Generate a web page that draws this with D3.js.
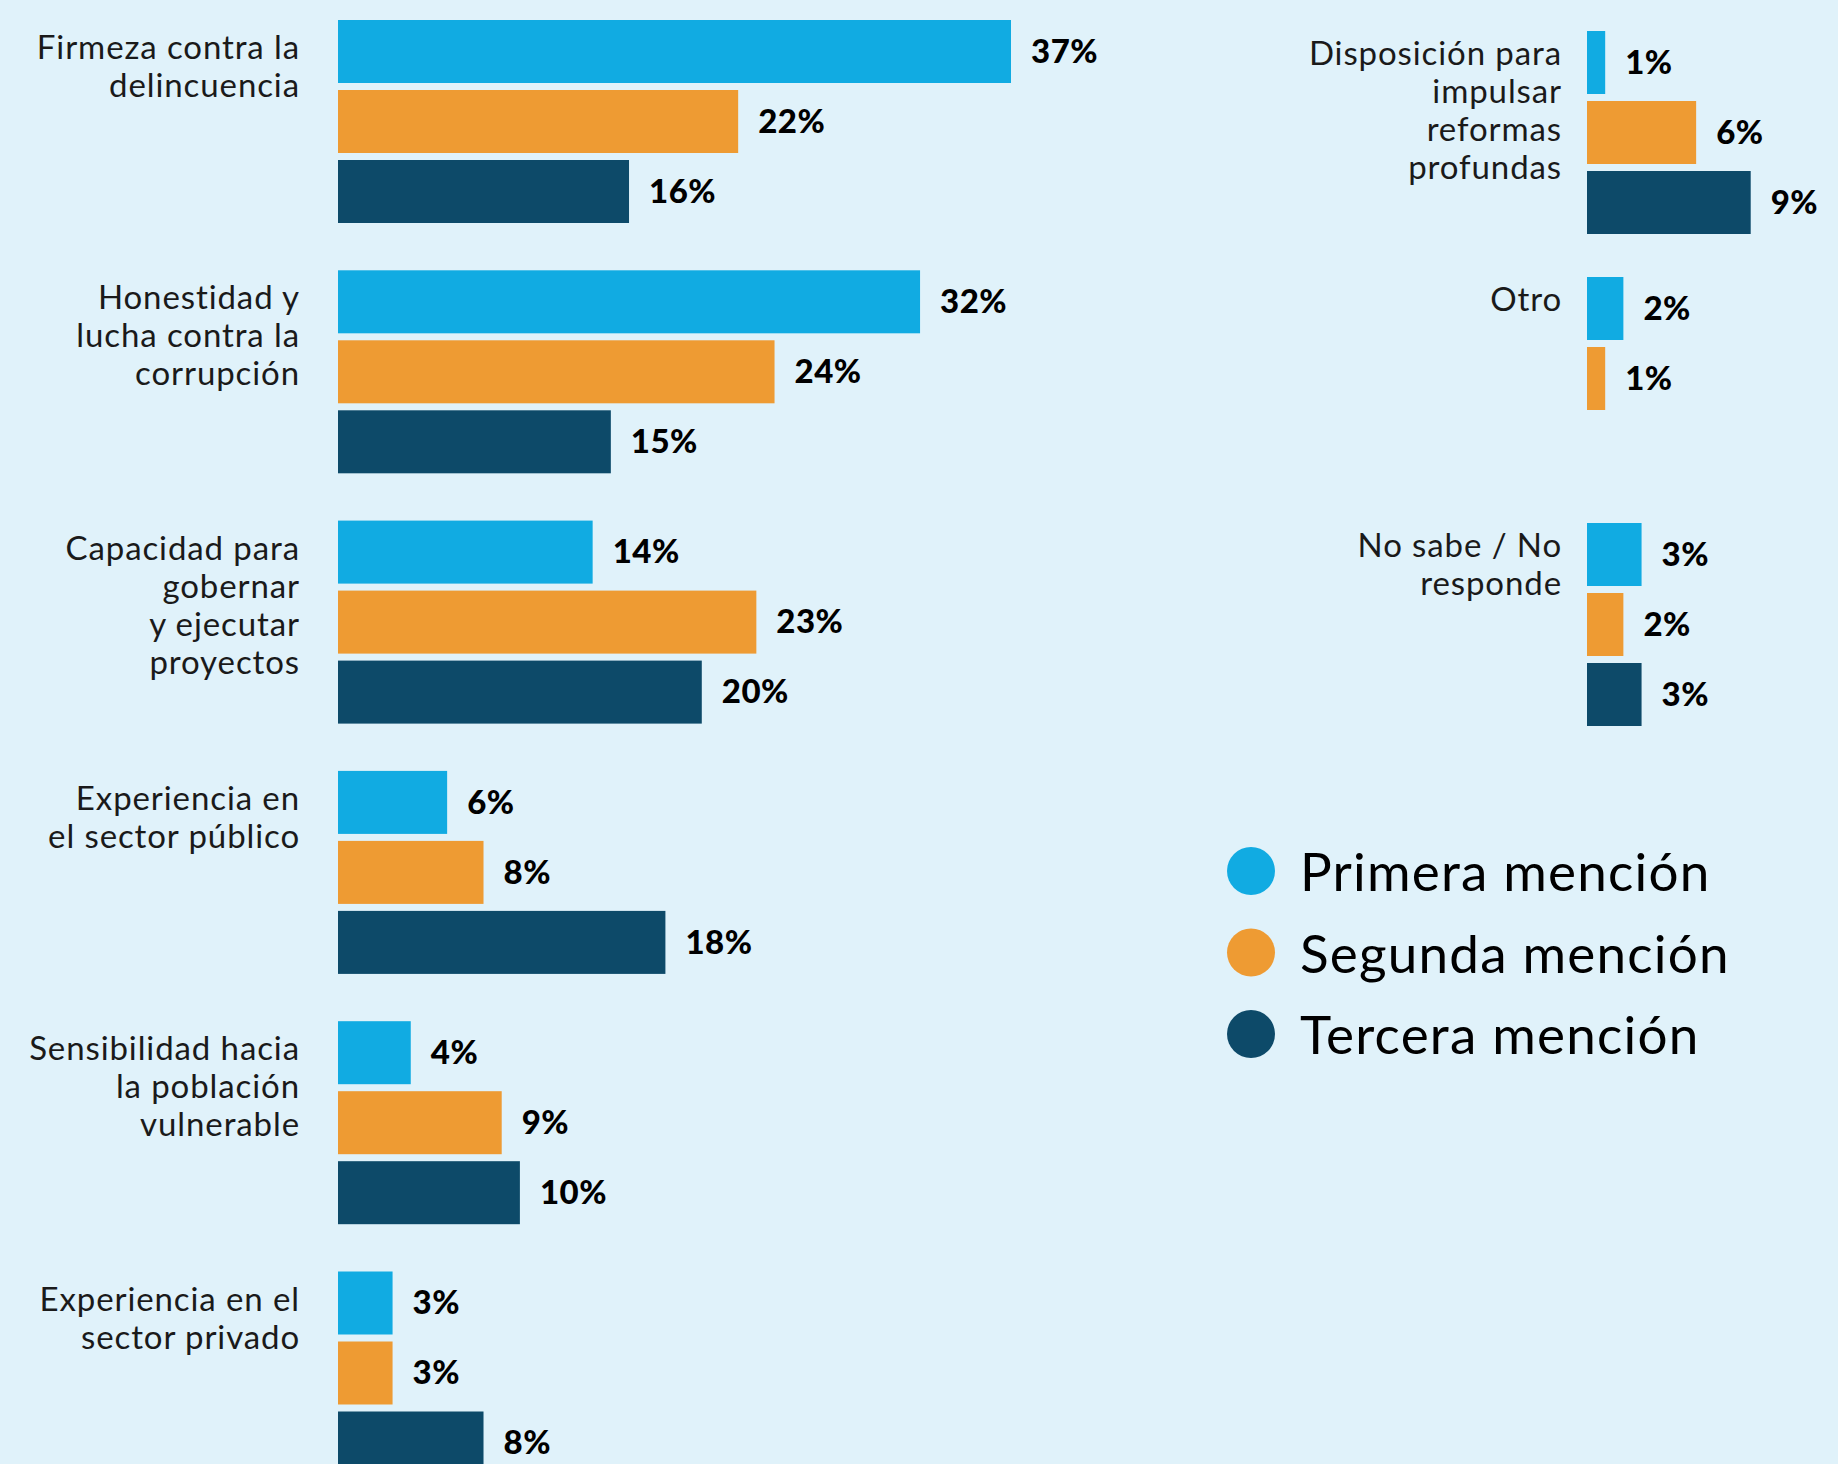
<!DOCTYPE html>
<html>
<head>
<meta charset="utf-8">
<style>
  body { margin: 0; background: #e0f2fa; }
  svg { display: block; }
</style>
</head>
<body>
<svg width="1838" height="1464"></svg>
<script src="https://d3js.org/d3.v7.min.js"></script>
<script>
    // series (mentions) and their colours
    var series = ["Primera mención", "Segunda mención", "Tercera mención"];
    var seriesColors = ["#11abe2", "#ee9b33", "#0d4a69"];

    // left block
    var leftCategories = [
        "Firmeza contra la\ndelincuencia",
        "Honestidad y\nlucha contra la\ncorrupción",
        "Capacidad para\ngobernar\ny ejecutar\nproyectos",
        "Experiencia en\nel sector público",
        "Sensibilidad hacia\nla población\nvulnerable",
        "Experiencia en el\nsector privado"
    ];
    var leftPrimera = [37, 32, 14, 6, 4, 3];
    var leftSegunda = [22, 24, 23, 8, 9, 3];
    var leftTercera = [16, 15, 20, 18, 10, 8];

    // right block
    var rightCategories = [
        "Disposición para\nimpulsar\nreformas\nprofundas",
        "Otro",
        "No sabe / No\nresponde"
    ];
    var rightPrimera = [1, 2, 3];
    var rightSegunda = [6, 1, 2];
    var rightTercera = [9, null, 3];

    var svg = d3.select("svg"),
        width = +svg.attr("width"),
        height = +svg.attr("height");

    svg.append("rect").attr("width", width).attr("height", height).attr("fill", "#e0f2fa");

    var x = d3.scaleLinear().domain([0, 37]).range([0, 673]);
    var color = d3.scaleOrdinal().domain(series).range(seriesColors);
    var inner = d3.scaleBand().domain(series).range([0, 203]).paddingInner(0.1);

    function rows(cats, a, b, c) {
        return cats.map(function (cat, i) {
            return {
                cat: cat,
                values: [a[i], b[i], c[i]].map(function (v, j) { return { s: series[j], v: v }; })
                    .filter(function (d) { return d.v != null; })
            };
        });
    }

    function drawBlock(data, opts) {
        var y = d3.scaleBand()
            .domain(data.map(function (d) { return d.cat; }))
            .range(opts.yRange)
            .paddingInner(0);

        var g = svg.append("g").attr("transform", "translate(" + opts.x0 + ",0)");

        var grp = g.selectAll(".grp")
            .data(data)
            .enter().append("g")
            .attr("class", "grp")
            .attr("transform", function (d) { return "translate(0," + y(d.cat) + ")"; });

        grp.selectAll("rect")
            .data(function (d) { return d.values; })
            .enter().append("rect")
            .attr("x", 0)
            .attr("y", function (d) { return inner(d.s); })
            .attr("width", function (d) { return x(d.v); })
            .attr("height", inner.bandwidth())
            .attr("fill", function (d) { return color(d.s); });

        grp.selectAll(".val")
            .data(function (d) { return d.values; })
            .enter().append("text")
            .attr("class", "val")
            .attr("x", function (d) { return x(d.v) + 20; })
            .attr("y", function (d) { return inner(d.s) + inner.bandwidth() / 2; })
            .attr("dy", "0.34em")
            .style("font", "900 33px Lato")
            .style("letter-spacing", "0.5px")
            .attr("fill", "#000")
            .text(function (d) { return d.v + "%"; });

        var lab = grp.append("text")
            .attr("x", opts.labelX - opts.x0)
            .attr("y", opts.labelDy)
            .attr("text-anchor", "end")
            .style("font", "33px Lato")
            .style("letter-spacing", "0.9px")
            .attr("fill", "#1a1a1a");
        lab.selectAll("tspan")
            .data(function (d) { return d.cat.split("\n"); })
            .enter().append("tspan")
            .attr("x", opts.labelX - opts.x0)
            .attr("dy", function (d, i) { return i ? 38 : 0; })
            .text(function (d) { return d; });
    }

    drawBlock(rows(leftCategories, leftPrimera, leftSegunda, leftTercera),
        { x0: 338, yRange: [20, 20 + 6 * 250.3], labelX: 300, labelDy: 39 });

    drawBlock(rows(rightCategories, rightPrimera, rightSegunda, rightTercera),
        { x0: 1587, yRange: [31, 31 + 3 * 246], labelX: 1562, labelDy: 34 });

    // legend
    var legend = svg.append("g").attr("transform", "translate(1251,871)");
    var li = legend.selectAll(".li")
        .data(series)
        .enter().append("g")
        .attr("class", "li")
        .attr("transform", function (d, i) { return "translate(0," + i * 81.5 + ")"; });
    li.append("circle").attr("r", 24).attr("fill", function (d) { return color(d); });
    li.append("text")
        .attr("x", 49)
        .attr("y", 20)
        .style("font", "53px Lato")
        .style("letter-spacing", "1.2px")
        .attr("fill", "#000")
        .text(function (d) { return d; });
</script>
</body>
</html>
